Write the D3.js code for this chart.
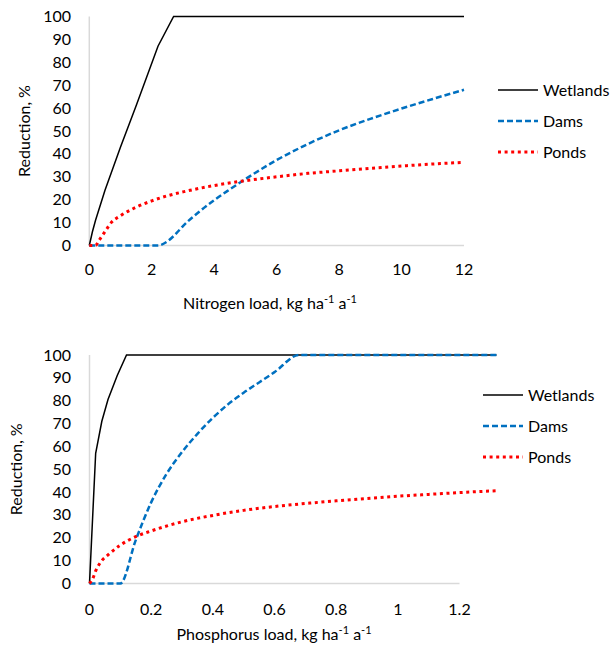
<!DOCTYPE html>
<html>
<head>
<meta charset="utf-8">
<script src="https://cdn.jsdelivr.net/npm/d3@7"></script>
<style>
  html, body { margin: 0; padding: 0; background: #fff; }
  svg text { font-family: Lato, "Open Sans", sans-serif; fill: #000; }
</style>
</head>
<body>
<div id="chart"></div>
<script>
// series names (legend order)
var seriesNames = ['Wetlands', 'Dams', 'Ponds'];

// nitrogen panel: [load, reduction %]
var wetlandsN = [[0, 0], [0.1, 6], [0.2, 11], [0.5, 24], [1, 43], [1.5, 61], [2.2, 87], [2.7, 100], [12, 100]];
var damsN = [[0, 0], [2.2, 0], [2.5, 1.8], [2.8, 5.5], [3, 8.5], [3.5, 14.5], [4, 19.8], [4.5, 24.5],
             [5, 29], [6, 37.3], [7, 44.3], [8, 50.3], [9, 55.3], [10, 59.8], [11, 64], [12, 68]];
var pondsN = [[0, 0], [0.2, 0], [0.3, 2], [0.5, 6], [0.7, 10], [1, 13], [1.5, 16.7], [2, 19.5],
              [2.5, 21.7], [3, 23.4], [4, 26.2], [5, 28.3], [6, 30], [7, 31.5], [8, 32.6],
              [9, 33.7], [10, 34.7], [11, 35.6], [12, 36.3]];

// phosphorus panel
var wetlandsP = [[0, 0], [0.02, 57], [0.04, 71], [0.06, 80.5], [0.09, 91], [0.12, 100], [1.32, 100]];
var damsP = [[0, 0], [0.1, 0], [0.15, 19], [0.2, 35.5], [0.25, 48], [0.3, 57.5], [0.35, 65.5], [0.4, 72.5],
             [0.45, 78.5], [0.5, 83.5], [0.55, 88], [0.6, 92.5], [0.68, 100], [1.32, 100]];
var pondsP = [[0, 0], [0.01, 2], [0.02, 5.5], [0.04, 10], [0.06, 12.5], [0.1, 16.8], [0.15, 20.5],
              [0.2, 23], [0.3, 27], [0.4, 29.8], [0.5, 32], [0.6, 33.7], [0.7, 35], [0.8, 36.2],
              [0.9, 37.2], [1, 38.2], [1.1, 39], [1.2, 39.8], [1.32, 40.6]];

// tick labels
var yTicks = [0, 10, 20, 30, 40, 50, 60, 70, 80, 90, 100];
var xTicksN = [0, 2, 4, 6, 8, 10, 12];
var xTicksP = [0, 0.2, 0.4, 0.6, 0.8, 1, 1.2];

var yTitle = 'Reduction, %';
var xTitleN = 'Nitrogen load, kg ha';
var xTitleP = 'Phosphorus load, kg ha';

var styles = {
    Wetlands: { color: '#000000', width: 1.5, dash: null, cap: 'butt' },
    Dams: { color: '#0070C0', width: 2.5, dash: '6,3', cap: 'butt' },
    Ponds: { color: '#FF0000', width: 3, dash: '3,3.6', cap: 'butt' }
};

var svg = d3.select('#chart').append('svg')
    .attr('width', 614)
    .attr('height', 645);

function drawPanel(opts) {
    var x = d3.scaleLinear().domain([0, opts.xMax]).range([opts.left, opts.right]);
    var y = d3.scaleLinear().domain([0, 100]).range([opts.bottom, opts.top]);
    var g = svg.append('g');

    // light grey axis lines
    g.append('line')
        .attr('x1', x(0)).attr('x2', x(0))
        .attr('y1', y(0)).attr('y2', y(100))
        .attr('stroke', '#d9d9d9').attr('stroke-width', 1.5);
    g.append('line')
        .attr('x1', x(0)).attr('x2', x(opts.xMax))
        .attr('y1', y(0)).attr('y2', y(0))
        .attr('stroke', '#d9d9d9').attr('stroke-width', 1.5);

    g.selectAll('.ytick')
        .data(yTicks)
        .enter()
        .append('text')
        .attr('class', 'ytick')
        .attr('x', 71)
        .attr('y', function(d) { return y(d) + 5.5; })
        .attr('text-anchor', 'end')
        .style('font-size', '16px')
        .text(function(d) { return d; });

    g.selectAll('.xtick')
        .data(opts.xTicks)
        .enter()
        .append('text')
        .attr('class', 'xtick')
        .attr('x', function(d) { return x(d); })
        .attr('y', opts.xTickY)
        .attr('text-anchor', 'middle')
        .style('font-size', '16px')
        .text(function(d) { return d; });

    // axis titles
    g.append('text')
        .attr('transform', 'translate(' + opts.yTitleX + ',' + ((y(0) + y(100)) / 2) + ') rotate(-90)')
        .attr('text-anchor', 'middle')
        .style('font-size', '16px')
        .text(yTitle);

    var xt = g.append('text')
        .attr('x', opts.xTitleX)
        .attr('y', opts.xTitleY)
        .attr('text-anchor', 'middle')
        .style('font-size', '16px');
    xt.append('tspan').text(opts.xTitle);
    xt.append('tspan').attr('dy', -6).style('font-size', '11px').text('-1');
    xt.append('tspan').attr('dy', 6).text(' a');
    xt.append('tspan').attr('dy', -6).style('font-size', '11px').text('-1');

    var line = d3.line()
        .x(function(d) { return x(d[0]); })
        .y(function(d) { return y(d[1]); });

    seriesNames.forEach(function(name, i) {
        var s = styles[name];
        var data = opts.series[i];
        line.curve(name === 'Wetlands' ? d3.curveLinear : d3.curveMonotoneX);
        g.append('path')
            .datum(data)
            .attr('d', line)
            .attr('fill', 'none')
            .attr('stroke', s.color)
            .attr('stroke-width', s.width)
            .attr('stroke-linecap', s.cap)
            .attr('stroke-dasharray', s.dash);

        var ly = opts.legendY + i * opts.legendStep;
        g.append('line')
            .attr('x1', opts.legendX).attr('x2', opts.legendX + 40)
            .attr('y1', ly).attr('y2', ly)
            .attr('stroke', s.color)
            .attr('stroke-width', s.width)
            .attr('stroke-dasharray', s.dash);
        g.append('text')
            .attr('x', opts.legendX + 45)
            .attr('y', ly + 5.5)
            .style('font-size', '16px')
            .text(name);
    });
}

drawPanel({
    left: 89.3, right: 464, top: 16.5, bottom: 245.5, xMax: 12,
    xTicks: xTicksN, xTickY: 275, xTitle: xTitleN, xTitleX: 270, xTitleY: 309,
    yTitleX: 30, legendX: 498, legendY: 90, legendStep: 31,
    series: [wetlandsN, damsN, pondsN]
});

drawPanel({
    left: 89.5, right: 459.5, top: 355, bottom: 583.5, xMax: 1.2,
    xTicks: xTicksP, xTickY: 615, xTitle: xTitleP, xTitleX: 274, xTitleY: 640,
    yTitleX: 22, legendX: 483, legendY: 395, legendStep: 31,
    series: [wetlandsP, damsP, pondsP]
});
</script>
</body>
</html>
